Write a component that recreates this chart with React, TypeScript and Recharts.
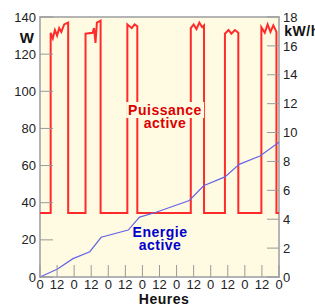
import React from 'react';
import { LineChart, Line, XAxis, YAxis, ReferenceArea } from 'recharts';

// Puissance active (W) — square wave, hours since start
const powerHours = [
  0, 7.5, 7.5, 9, 10.5, 12, 13.5, 15, 17, 19.8, 19.8,
  32, 32, 37, 38, 39, 40, 42.6, 42.6,
  61.4, 61.4, 64.5, 66.5, 68.4, 68.4,
  106, 106, 108, 110, 112, 114, 115.3, 115.3,
  130, 130, 132.5, 134.5, 137, 139.4, 139.4,
  155.6, 155.6, 158, 160, 162, 164, 166.2, 166.2, 168,
];
const powerWatts = [
  34.5, 34.5, 131.5, 128.5, 133, 130, 134, 132, 136, 137, 34.5,
  34.5, 131, 131.5, 134, 126, 137, 138, 34.5,
  34.5, 136, 134, 136, 135, 34.5,
  34.5, 134, 136, 133.5, 137, 134.5, 135.5, 34.5,
  34.5, 131, 133, 131, 133, 131.5, 34.5,
  34.5, 134.5, 131.5, 136, 132, 135.5, 132, 34.5, 34.5,
];

// Energie active (kW/h)
const energyHours = [0, 12, 23.2, 35, 43, 62, 70, 80.6, 105, 115, 130, 140, 154.6, 168];
const energyKwh = [0, 0.53, 1.27, 1.75, 2.75, 3.25, 4.15, 4.45, 5.3, 6.32, 6.93, 7.8, 8.38, 9.33];

const hourTicks = [0, 12, 24, 36, 48, 60, 72, 84, 96, 108, 120, 132, 144, 156, 168];
const wattTicks = [0, 20, 40, 60, 80, 100, 120, 140];
const kwhTicks = [0, 2, 4, 6, 8, 10, 12, 14, 16, 18];

const powerData = powerHours.map((h, i) => ({ h, w: powerWatts[i] }));
const energyData = energyHours.map((h, i) => ({ h, e: energyKwh[i] }));

const font = '"Liberation Sans", Arial, sans-serif';
const tickStyle = { fill: '#222', fontSize: 13, fontFamily: font };
const plotBg = '#fffbe3';

const Label = ({ x, y, color, size = 14, lines, bg }: any) => (
  <div
    style={{
      position: 'absolute',
      left: x,
      top: y,
      transform: 'translate(-50%, -50%)',
      color,
      fontSize: size,
      fontWeight: 'bold',
      fontFamily: font,
      whiteSpace: 'nowrap',
      textAlign: 'center',
      lineHeight: '13px',
      letterSpacing: 0.5,
    }}
  >
    {lines.map((t: string, i: number) => (
      <div key={i}>
        <span style={{ background: bg, padding: '0 2px' }}>{t}</span>
      </div>
    ))}
  </div>
);

export default function App() {
  return (
    <div style={{ position: 'absolute', left: 0, top: 0, width: 315, height: 306, overflow: 'hidden', background: '#fff' }}>
      <LineChart width={315} height={306} margin={{ top: 17, right: 0, left: 0, bottom: 0 }}>
        <XAxis
          dataKey="h"
          type="number"
          domain={[0, 168]}
          ticks={hourTicks}
          interval={0}
          tickFormatter={(v: number) => (v % 24 === 0 ? '0' : '12')}
          height={29}
          tick={tickStyle}
          tickSize={-12}
          tickMargin={15}
          tickLine={{ stroke: '#999' }}
          axisLine={false}
        />
        <YAxis
          yAxisId="w"
          domain={[0, 140]}
          ticks={wattTicks}
          interval={0}
          width={40}
          tick={tickStyle}
          tickSize={-13}
          tickMargin={17}
          tickLine={{ stroke: '#999' }}
          axisLine={false}
        />
        <YAxis
          yAxisId="e"
          orientation="right"
          domain={[0, 18]}
          ticks={kwhTicks}
          interval={0}
          width={36}
          tick={tickStyle}
          tickSize={-12}
          tickMargin={16}
          tickLine={{ stroke: '#999' }}
          axisLine={false}
        />
        <ReferenceArea
          yAxisId="w"
          x1={0}
          x2={168}
          y1={0}
          y2={140}
          fill={plotBg}
          fillOpacity={1}
          stroke="#b4b4b4"
          strokeWidth={2}
        />
        <Line
          yAxisId="w"
          data={powerData}
          dataKey="w"
          type="linear"
          stroke="#ff2a2a"
          strokeWidth={2}
          dot={false}
          isAnimationActive={false}
        />
        <Line
          yAxisId="e"
          data={energyData}
          dataKey="e"
          type="linear"
          stroke="#6464e6"
          strokeWidth={1.2}
          dot={false}
          isAnimationActive={false}
        />
      </LineChart>
      <Label x={27} y={37} color="#111" size={15} lines={['W']} />
      <Label x={302} y={31} color="#111" lines={['kW/h']} />
      <Label x={164} y={299} color="#111" lines={['Heures']} />
      <Label x={165} y={117} color="#dd0000" lines={['Puissance', 'active']} bg={plotBg} />
      <Label x={160} y={239} color="#0000cc" lines={['Energie', 'active']} />
    </div>
  );
}
